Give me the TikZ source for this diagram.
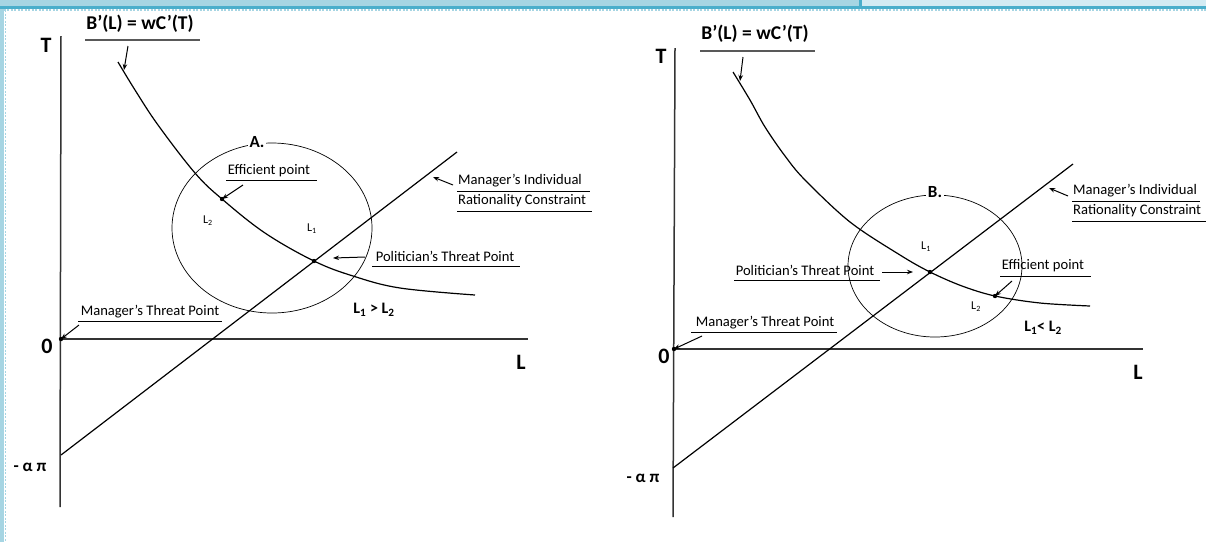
\documentclass[tikz,border=0pt]{standalone}
\usepackage{fontspec}
\setmainfont{Carlito}
\usetikzlibrary{arrows.meta}
\definecolor{bandA}{HTML}{A6D5E3}
\definecolor{bandB}{HTML}{D3EBF3}
\definecolor{bandLine}{HTML}{4AAECB}
\definecolor{axisgray}{HTML}{333333}
\tikzset{
  lbl/.style={font=\fontsize{14.6}{16}\selectfont, inner sep=0pt},
  sml/.style={font=\fontsize{12}{13}\selectfont, inner sep=0pt},
  bigl/.style={font=\fontsize{22}{24}\selectfont\bfseries, inner sep=0pt},
  eqn/.style={font=\fontsize{19.5}{22}\selectfont\bfseries, inner sep=0pt},
  midb/.style={font=\fontsize{17}{19}\selectfont\bfseries, inner sep=0pt},
  cmpb/.style={font=\fontsize{16}{18}\selectfont\bfseries, inner sep=0pt},
  tag/.style={font=\fontsize{17}{19}\selectfont\bfseries, inner sep=1.5pt, fill=white},
  axisline/.style={line width=1.5pt, draw=axisgray},
  curveline/.style={line width=1.2pt},
  ellipseline/.style={line width=0.7pt},
  ulin/.style={line width=1pt},
  ptr/.style={-{Stealth[length=6pt,width=4.5pt]}, line width=1pt},
}
\newcommand{\sbs}[1]{\textsubscript{#1}}
\begin{document}
\begin{tikzpicture}[x=1pt,y=-1pt]
\useasboundingbox (0,0) rectangle (1206,542);
\fill[white] (0,0) rectangle (1206,542);
% ---- frame band ----
\fill[bandA] (0,0) rectangle (860,6);
\fill[bandB] (862,0) rectangle (1206,6);
\fill[bandLine] (859,0) rectangle (862,8);
\fill[bandLine] (0,6) rectangle (1206,8.5);
\draw[bandA, line width=1.5pt, dash pattern=on 2pt off 1.5pt] (0,10) -- (1206,10);
\fill[bandA] (0,8.5) rectangle (4,542);
\draw[bandA, line width=1.5pt, dash pattern=on 2pt off 1.5pt] (5.5,10) -- (5.5,542);

% ================= LEFT PANEL =================
\coordinate (TAtop) at (61,36);
\coordinate (TAbot) at (60,507);
\coordinate (OA) at (61,339);
\coordinate (LAend) at (528,339);
\draw[axisline] (TAtop) -- (TAbot);
\draw[axisline] (OA) -- (LAend);
\node[bigl] (TlabA) at (46,45) {T};
\node[bigl] (LlabA) at (521,362) {L};
\node[bigl] (zeroA) at (47,346) {0};
\node[midb] (apA) at (30,467) {- α π};

% IR constraint
\coordinate (IRA1) at (61,455);
\coordinate (IRA2) at (457,152);
\draw[line width=1.2pt] (IRA1) -- (IRA2);

% B'(L)=wC'(T) curve
\draw[curveline] plot[smooth, tension=0.6] coordinates {(118,62) (135,90) (158,125) (195,173) (222,199) (265,233) (314,261) (353,276) (400,288) (475,295)};
\coordinate (PA) at (314,261);
\coordinate (EA) at (222,199);
\fill (PA) circle[radius=2.2];
\fill (EA) circle[radius=2.2];

% circle A
\draw[ellipseline] (272,228) ellipse [x radius=100, y radius=85];
\node[tag] (tagA) at (257,142) {A.};

% equation label
\node[eqn] (eqA) at (140,24) {B'(L) = wC'(T)};
\draw[ulin, draw=black!65, line width=1.3pt] (85,40) -- (200,40);
\coordinate (eqAarrS) at (128,46);
\coordinate (eqAarrE) at (124,70);
\draw[ptr] (eqAarrS) -- (eqAarrE);

% efficient point
\node[lbl] (effA) at (269,171) {Efficient point};
\draw[ulin] (226,180) -- (317,180);
\coordinate (effAs) at (243,185);
\draw[ptr] (effAs) -- (EA);

\node[sml] (L2A) at (208,221) {L\sbs{2}};
\node[sml] (L1A) at (312,229) {L\sbs{1}};

% politician
\node[lbl] (polA) at (445,256) {Politician's Threat Point};
\draw[ulin] (372,266) -- (520,266);
\coordinate (polAs) at (365,257);
\coordinate (polAe) at (333,258);
\draw[ptr] (polAs) -- (polAe);

% manager IR
\node[lbl, anchor=west] (mirA1) at (458,181) {Manager's Individual};
\draw[ulin] (457,191) -- (590,191);
\node[lbl, anchor=west] (mirA2) at (458,201) {Rationality Constraint};
\draw[ulin] (457,211) -- (592,211);
\coordinate (mirAs) at (453,185);
\coordinate (mirAe) at (433,177);
\draw[ptr] (mirAs) -- (mirAe);

\node[cmpb] (cmpA) at (374,310) {L\sbs{1} > L\sbs{2}};

% manager threat
\node[lbl] (mtA) at (150,312) {Manager's Threat Point};
\draw[ulin] (78,321) -- (222,321);
\coordinate (mtAs) at (79,325);
\fill (OA) circle[radius=2.2];
\draw[ptr] (mtAs) -- (OA);

% ================= RIGHT PANEL =================
\coordinate (TBtop) at (675,48);
\coordinate (TBbot) at (673,517);
\coordinate (OB) at (674,349);
\coordinate (LBend) at (1143,349);
\draw[axisline] (TBtop) -- (TBbot);
\draw[axisline] (OB) -- (LBend);
\node[bigl] (TlabB) at (661,56) {T};
\node[bigl] (LlabB) at (1138,372) {L};
\node[bigl] (zeroB) at (664,356) {0};
\node[midb] (apB) at (643,478) {- α π};

\coordinate (IRB1) at (673,468);
\coordinate (IRB2) at (1073,164);
\draw[line width=1.2pt] (IRB1) -- (IRB2);

\draw[curveline] plot[smooth, tension=0.55] coordinates {(733,72) (750,100) (765,127) (785,156) (805,180) (850,222) (900,255) (930,272) (962,286) (995,296) (1040,303) (1090,306)};
\coordinate (PB) at (930,272);
\coordinate (EB) at (995,296);
\fill (PB) circle[radius=2.2];
\fill (EB) circle[radius=2.2];

\draw[ellipseline] (935,266) ellipse [x radius=87, y radius=71];
\node[tag] (tagB) at (935,192) {B.};

\node[eqn] (eqB) at (755,34) {B'(L) = wC'(T)};
\draw[ulin, draw=black!65, line width=1.3pt] (700,51) -- (815,51);
\coordinate (eqBarrS) at (743,57);
\coordinate (eqBarrE) at (740,81);
\draw[ptr] (eqBarrS) -- (eqBarrE);

\node[sml] (L1B) at (926,247) {L\sbs{1}};
\node[sml] (L2B) at (976,307) {L\sbs{2}};

\node[lbl] (polB) at (805,270) {Politician's Threat Point};
\draw[ulin] (734,280) -- (880,280);
\coordinate (polBs) at (882,272);
\coordinate (polBe) at (913,272);
\draw[ptr] (polBs) -- (polBe);

\node[lbl] (effB) at (1043,266) {Efficient point};
\draw[ulin] (1000,276) -- (1091,276);
\coordinate (effBs) at (1012,281);
\draw[ptr] (effBs) -- (EB);

\node[lbl, anchor=west] (mirB1) at (1073,191) {Manager's Individual};
\draw[ulin] (1072,201) -- (1200,201);
\node[lbl, anchor=west] (mirB2) at (1073,211) {Rationality Constraint};
\draw[ulin] (1072,221) -- (1206,221);
\coordinate (mirBs) at (1068,196);
\coordinate (mirBe) at (1049,188);
\draw[ptr] (mirBs) -- (mirBe);

\node[cmpb] (cmpB) at (1043,328) {L\sbs{1}< L\sbs{2}};

\node[lbl] (mtB) at (765,323) {Manager's Threat Point};
\draw[ulin] (691,332) -- (837,332);
\coordinate (mtBs) at (702,336);
\fill (OB) circle[radius=2.2];
\draw[ptr] (mtBs) -- (OB);
\end{tikzpicture}
\end{document}
